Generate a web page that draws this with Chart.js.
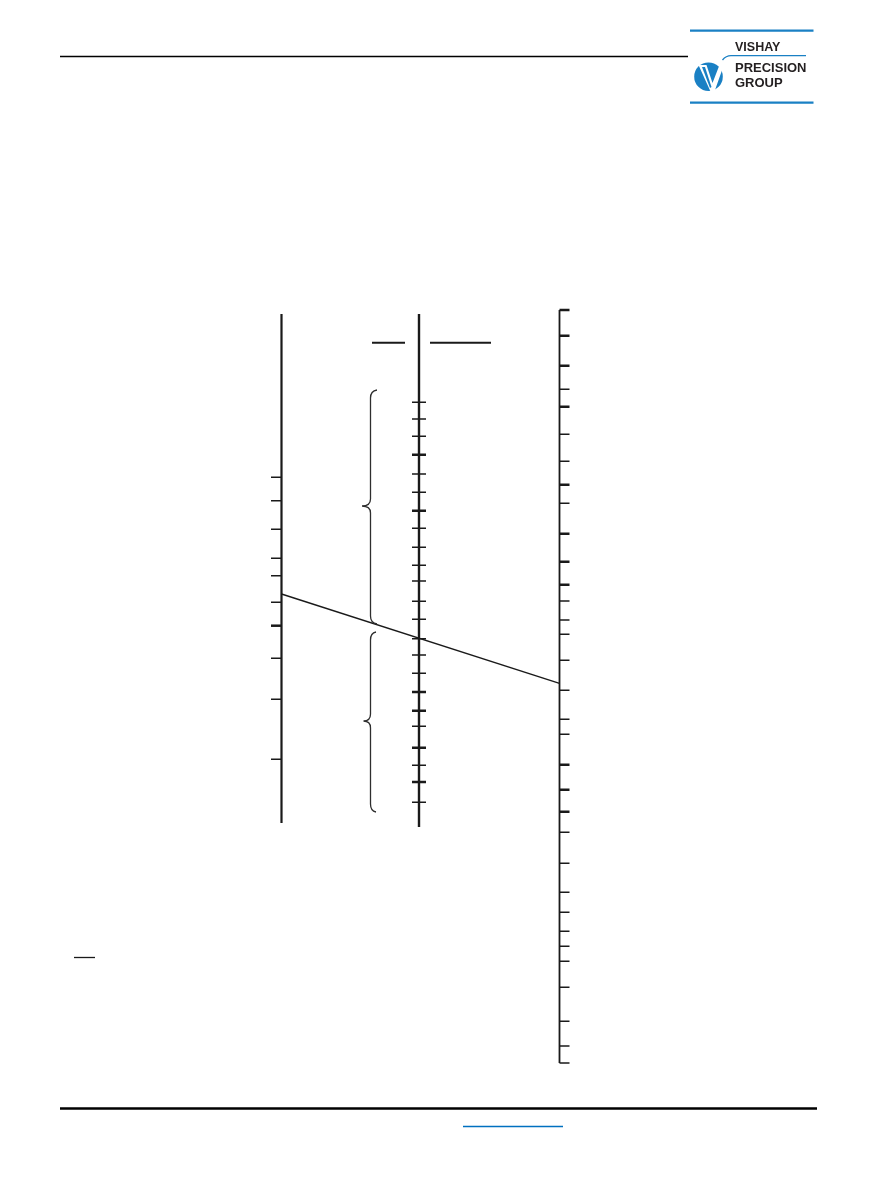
<!DOCTYPE html>
<html>
<head>
<meta charset="utf-8">
<title>Nomograph</title>
<script src="https://cdn.jsdelivr.net/npm/chart.js@4"></script>
<style>
  html, body { margin: 0; padding: 0; background: #ffffff; }
  #wrap { position: relative; width: 893px; height: 1188px; overflow: hidden; }
  #canvas { position: absolute; left: 0; top: 0; }
  .logo { position: absolute; font-family: "Liberation Sans", Arial, sans-serif; font-weight: bold;
          color: #231f20; white-space: nowrap; }
</style>
</head>
<body>
<div id="wrap">
  <canvas id="canvas" width="893" height="1188"></canvas>
  <div class="logo" style="left:735px; top:41px; font-size:12.5px; line-height:12.5px;">VISHAY</div>
  <div class="logo" style="left:735px; top:60.5px; font-size:13px; line-height:13px;">PRECISION</div>
  <div class="logo" style="left:735px; top:75.5px; font-size:13px; line-height:13px;">GROUP</div>
</div>
<script>
// Scale readings, measured along each nomograph axis (page units, top = 0)
var leftMinor = [477.3, 500.7, 529.3, 558.3, 575.7, 602.3, 658.3, 699.3, 759.3];
var leftMajor = [625.7];
var midMinor = [402.3, 419, 436.3, 474, 492.3, 528.3, 547.3, 565.3, 581, 601.3, 619.3, 638.7,
                655, 673.3, 726.3, 765.3, 802.3];
var midMajor = [454.7, 510.7, 692, 710.7, 747.7, 782];
var rightMinor = [389.3, 434.3, 461.3, 503.3, 601, 620, 634.3, 660.3, 690.3, 719.3, 734.3,
                  832.3, 863.3, 892.3, 912.3, 931.3, 946.3, 961.3, 987.3, 1021.3, 1046, 1063];
var rightMajor = [310, 335.7, 365.7, 406.7, 484.7, 533.7, 561.7, 584.7, 764.7, 789.7, 811.7];
// Where the index line crosses the outer scales
var indexReadings = [594, 683.3];

// Layout of the sheet
var axisLeft = { x: 281.5, top: 314, bottom: 823, tickFrom: 271, tickTo: 281.5 };
var axisMid = { x: 419, top: 314, bottom: 827, tickFrom: 412, tickTo: 426 };
var axisRight = { x: 559.5, top: 310, bottom: 1063, tickFrom: 559.5, tickTo: 569.5 };
var braces = [
  { x: 370.5, top: 390, tip: 506, bottom: 624, tipX: 362, endX: 377 },
  { x: 370.5, top: 632, tip: 721, bottom: 812, tipX: 363.5, endX: 376 }
];
var ink = "#1a1a1a";

function tickSegments(values, axis) {
  var pts = [];
  for (var i = 0; i < values.length; i++) {
    pts.push({ x: axis.tickFrom, y: values[i] });
    pts.push({ x: axis.tickTo, y: values[i] });
    pts.push({ x: axis.tickTo, y: null });     // break the line between ticks
  }
  return pts;
}

function lineSet(data, width, color) {
  return {
    data: data, showLine: true, borderColor: color || ink, borderWidth: width,
    pointRadius: 0, pointHoverRadius: 0, spanGaps: false, tension: 0, fill: false
  };
}

// Rules, logo and braces (drawn through the scales as well)
var sheetPlugin = {
  id: "sheet",
  afterDatasetsDraw: function (chart) {
    var ctx = chart.ctx;
    var sx = chart.scales.x, sy = chart.scales.y;
    function px(v) { return sx.getPixelForValue(v); }
    function py(v) { return sy.getPixelForValue(v); }
    function rule(x1, x2, y, w, color) {
      ctx.beginPath();
      ctx.lineWidth = w;
      ctx.strokeStyle = color;
      ctx.moveTo(px(x1), py(y));
      ctx.lineTo(px(x2), py(y));
      ctx.stroke();
    }
    ctx.save();
    rule(60, 688, 56.5, 1.3, "#000000");     // header rule
    rule(60, 817, 1108.5, 2.6, "#000000");   // footer rule
    rule(463, 563, 1126.5, 1.4, "#0070c0");  // link underline
    rule(74, 95, 957.5, 1.3, ink);           // fraction bar
    rule(372, 405, 342.7, 2, ink);           // heading bars
    rule(430, 491, 342.7, 2, ink);

    // braces
    ctx.lineWidth = 1.3;
    ctx.strokeStyle = "#2e2e2e";
    braces.forEach(function (b) {
      ctx.beginPath();
      ctx.moveTo(px(b.endX), py(b.top));
      ctx.quadraticCurveTo(px(b.x), py(b.top + 1), px(b.x), py(b.top + 8));
      ctx.lineTo(px(b.x), py(b.tip - 7));
      ctx.quadraticCurveTo(px(b.x), py(b.tip), px(b.tipX), py(b.tip));
      ctx.quadraticCurveTo(px(b.x), py(b.tip), px(b.x), py(b.tip + 7));
      ctx.lineTo(px(b.x), py(b.bottom - 8));
      ctx.quadraticCurveTo(px(b.x), py(b.bottom - 1), px(b.endX), py(b.bottom));
      ctx.stroke();
    });

    // logo: blue rules, disc with white V and the swash
    rule(690, 813.5, 30.7, 2.2, "#1a80c4");
    rule(690, 813.5, 102.7, 2.2, "#1a80c4");
    ctx.fillStyle = "#1a80c4";
    ctx.beginPath();
    ctx.arc(px(708.5), py(76.7), 14.3, 0, Math.PI * 2);
    ctx.fill();
    ctx.fillStyle = "#ffffff";
    ctx.beginPath();
    ctx.moveTo(px(698.5), py(65));
    ctx.lineTo(px(706.5), py(65));
    ctx.lineTo(px(712.5), py(83));
    ctx.lineTo(px(722), py(58.5));
    ctx.lineTo(px(726.5), py(57.5));
    ctx.lineTo(px(714.5), py(91.5));
    ctx.lineTo(px(710.5), py(91.5));
    ctx.closePath();
    ctx.fill();
    ctx.fillStyle = "#1a80c4";
    ctx.beginPath();
    ctx.moveTo(px(702), py(67));
    ctx.lineTo(px(705), py(67));
    ctx.lineTo(px(711.5), py(87));
    ctx.lineTo(px(710), py(88));
    ctx.closePath();
    ctx.fill();
    ctx.beginPath();
    ctx.lineWidth = 1.3;
    ctx.strokeStyle = "#1a80c4";
    ctx.moveTo(px(722.5), py(60));
    ctx.quadraticCurveTo(px(726), py(55.7), px(731), py(55.7));
    ctx.lineTo(px(806), py(55.7));
    ctx.stroke();
    ctx.restore();
  }
};

var canvas = document.getElementById("canvas");
var datasets = [
  // scale lines
  lineSet([{ x: axisLeft.x, y: axisLeft.top }, { x: axisLeft.x, y: axisLeft.bottom }], 2.2),
  lineSet([{ x: axisMid.x, y: axisMid.top }, { x: axisMid.x, y: axisMid.bottom }], 2.4),
  lineSet([{ x: axisRight.x, y: axisRight.top }, { x: axisRight.x, y: axisRight.bottom }], 1.8),
  // ticks
  lineSet(tickSegments(leftMinor, axisLeft), 1.4),
  lineSet(tickSegments(leftMajor, axisLeft), 2.5),
  lineSet(tickSegments(midMinor, axisMid), 1.4),
  lineSet(tickSegments(midMajor, axisMid), 2.5),
  lineSet(tickSegments(rightMinor, axisRight), 1.4),
  lineSet(tickSegments(rightMajor, axisRight), 2.5),
  // index line
  lineSet([{ x: axisLeft.x, y: indexReadings[0] }, { x: axisRight.x, y: indexReadings[1] }], 1.4)
];

var myChart = new Chart(canvas, {
  type: "scatter",
  data: { datasets: datasets },
  options: {
    responsive: false,
    animation: false,
    layout: { padding: 0 },
    plugins: { legend: { display: false }, tooltip: { enabled: false } },
    scales: {
      x: { type: "linear", min: 0, max: 893, display: false },
      y: { type: "linear", min: 0, max: 1188, reverse: true, display: false }
    }
  },
  plugins: [sheetPlugin]
});
</script>
</body>
</html>
